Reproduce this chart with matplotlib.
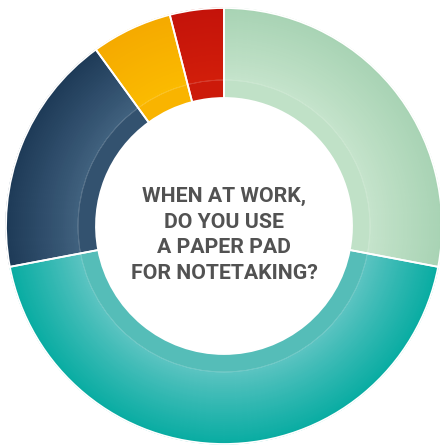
import numpy as np
import matplotlib
matplotlib.use('Agg')
import matplotlib.pyplot as plt
from matplotlib.colors import to_rgb

# survey shares, clockwise from 12 o'clock
labels = ['Green', 'Teal', 'Navy', 'Yellow', 'Red']
shares = [28, 44, 18, 6, 4]

# colours: light (inner edge of gradient), dark (outer edge), flat inner band
light = ['#c6e4cc', '#5cc4c2', '#41627f', '#fbbb00', '#d21e0a']
dark = ['#a8d3b4', '#08aca2', '#1e3a58', '#f5aa00', '#c4130a']
band = ['#c0e1c7', '#55bdb8', '#33526f', '#f9b400', '#cc1a0a']

question = 'WHEN AT WORK,\nDO YOU USE\nA PAPER PAD\nFOR NOTETAKING?'

W, H = 440, 445
cx, cy = 224, H - 226
r_out, r_mid, r_in = 218, 146, 128

fig = plt.figure(figsize=(W / 100, H / 100), dpi=100)
ax = fig.add_axes([0, 0, 1, 1])

def mix(c1, c2, t):
    a, b = np.array(to_rgb(c1)), np.array(to_rgb(c2))
    return tuple(a + (b - a) * t)

# outer gradient band drawn as thin concentric rings
n = 36
edges = np.linspace(r_mid, r_out, n + 1)
for k in range(n, 0, -1):
    t = (k - 0.5) / n
    cols = [mix(l, d, t ** 0.9) for l, d in zip(light, dark)]
    wedges, _ = ax.pie(shares, colors=cols, startangle=90, counterclock=False,
                       radius=edges[k], center=(cx, cy), frame=True,
                       wedgeprops=dict(width=edges[k] - edges[k - 1] + 1.5, linewidth=0.8))
    for w in wedges:
        w.set_edgecolor(w.get_facecolor())

# flat inner band
wedges, _ = ax.pie(shares, colors=band, startangle=90, counterclock=False,
                   radius=r_mid, center=(cx, cy), frame=True,
                   wedgeprops=dict(width=r_mid - r_in, linewidth=0))

# faint line between band and gradient
ax.pie([1], colors=['none'], radius=r_mid, center=(cx, cy), frame=True,
       wedgeprops=dict(width=0.01, edgecolor='white', linewidth=0.6, alpha=0.15))

# white separators
ax.pie(shares, colors=['none'] * len(shares), startangle=90, counterclock=False,
       radius=r_out, center=(cx, cy), frame=True,
       wedgeprops=dict(width=r_out - r_in, edgecolor='white', linewidth=1.3))

ax.set_xlim(0, W)
ax.set_ylim(0, H)
ax.set_aspect('equal')
ax.axis('off')

ax.text(cx, H - 235, question, ha='center', va='center', color='#525252',
        fontsize=15.3, fontweight='bold', family='Roboto', linespacing=1.45)

fig.savefig('out.png', dpi=100)
